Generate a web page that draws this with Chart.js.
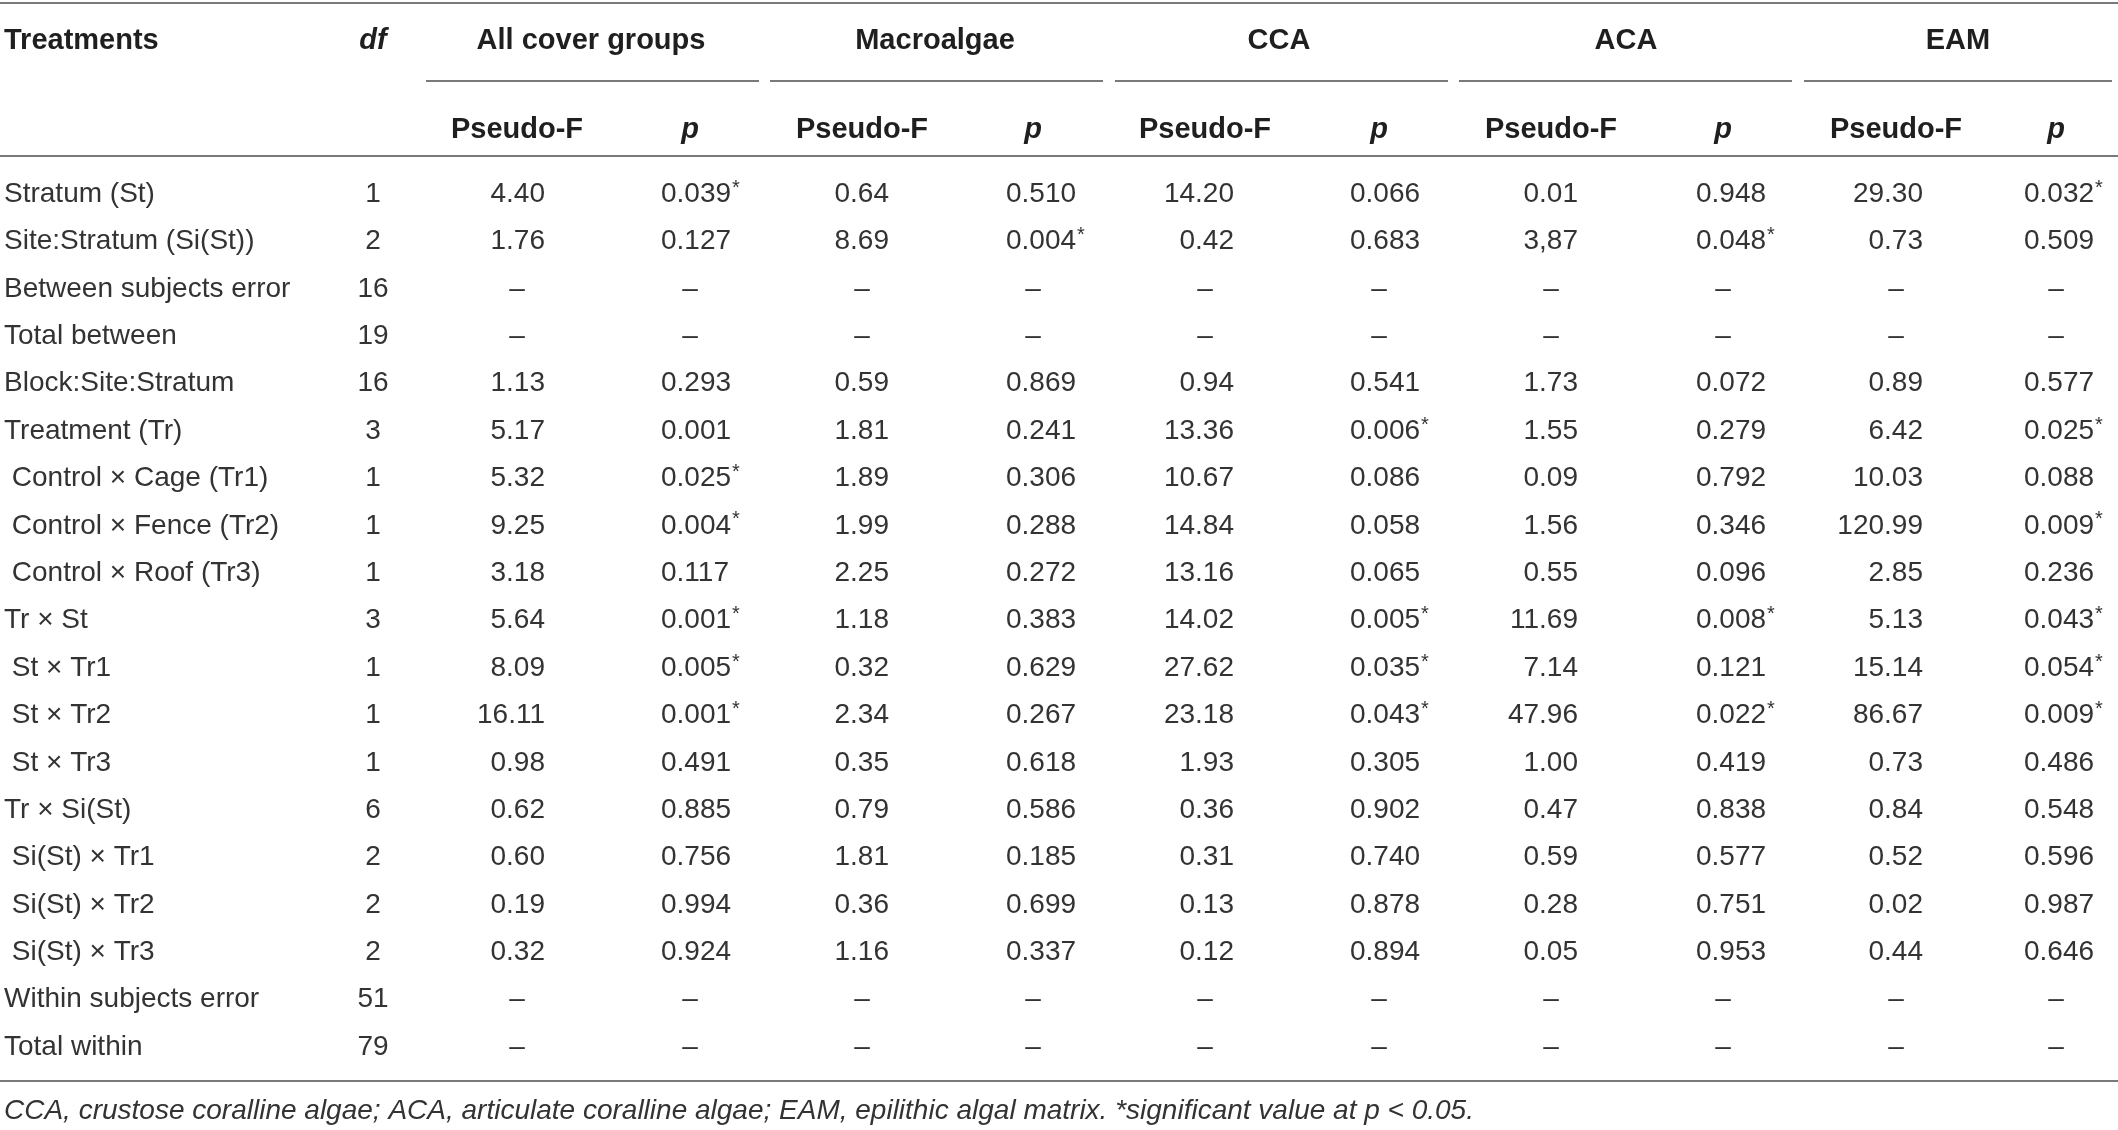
<!DOCTYPE html>
<html lang="en">

<head>
      <meta charset="UTF-8">
      <title>Treatments table</title>
      <script src="https://cdn.jsdelivr.net/npm/chart.js"></script>
      <style>
            html, body {
                  margin: 0;
                  padding: 0;
                  background: #ffffff;
            }
            .chart-container {
                  position: relative;
                  width: 2118px;
                  height: 1130px;
            }
      </style>
</head>

<body>
      <div class="chart-container">
            <canvas id="tableChart" width="2118" height="1130"></canvas>
      </div>

      <script>
            // table data
            const treatments = ['Stratum (St)', 'Site:Stratum (Si(St))', 'Between subjects error', 'Total between',
                  'Block:Site:Stratum', 'Treatment (Tr)', ' Control × Cage (Tr1)', ' Control × Fence (Tr2)',
                  ' Control × Roof (Tr3)', 'Tr × St', ' St × Tr1', ' St × Tr2', ' St × Tr3', 'Tr × Si(St)',
                  ' Si(St) × Tr1', ' Si(St) × Tr2', ' Si(St) × Tr3', 'Within subjects error', 'Total within'];
            const df = [1, 2, 16, 19, 16, 3, 1, 1, 1, 3, 1, 1, 1, 6, 2, 2, 2, 51, 79];
            const groups = ['All cover groups', 'Macroalgae', 'CCA', 'ACA', 'EAM'];

            // null = dash
            const allPseudoF = ['4.40', '1.76', null, null, '1.13', '5.17', '5.32', '9.25', '3.18', '5.64', '8.09', '16.11', '0.98', '0.62', '0.60', '0.19', '0.32', null, null];
            const allP = ['0.039*', '0.127', null, null, '0.293', '0.001', '0.025*', '0.004*', '0.117', '0.001*', '0.005*', '0.001*', '0.491', '0.885', '0.756', '0.994', '0.924', null, null];
            const macroPseudoF = ['0.64', '8.69', null, null, '0.59', '1.81', '1.89', '1.99', '2.25', '1.18', '0.32', '2.34', '0.35', '0.79', '1.81', '0.36', '1.16', null, null];
            const macroP = ['0.510', '0.004*', null, null, '0.869', '0.241', '0.306', '0.288', '0.272', '0.383', '0.629', '0.267', '0.618', '0.586', '0.185', '0.699', '0.337', null, null];
            const ccaPseudoF = ['14.20', '0.42', null, null, '0.94', '13.36', '10.67', '14.84', '13.16', '14.02', '27.62', '23.18', '1.93', '0.36', '0.31', '0.13', '0.12', null, null];
            const ccaP = ['0.066', '0.683', null, null, '0.541', '0.006*', '0.086', '0.058', '0.065', '0.005*', '0.035*', '0.043*', '0.305', '0.902', '0.740', '0.878', '0.894', null, null];
            const acaPseudoF = ['0.01', '3,87', null, null, '1.73', '1.55', '0.09', '1.56', '0.55', '11.69', '7.14', '47.96', '1.00', '0.47', '0.59', '0.28', '0.05', null, null];
            const acaP = ['0.948', '0.048*', null, null, '0.072', '0.279', '0.792', '0.346', '0.096', '0.008*', '0.121', '0.022*', '0.419', '0.838', '0.577', '0.751', '0.953', null, null];
            const eamPseudoF = ['29.30', '0.73', null, null, '0.89', '6.42', '10.03', '120.99', '2.85', '5.13', '15.14', '86.67', '0.73', '0.84', '0.52', '0.02', '0.44', null, null];
            const eamP = ['0.032*', '0.509', null, null, '0.577', '0.025*', '0.088', '0.009*', '0.236', '0.043*', '0.054*', '0.009*', '0.486', '0.548', '0.596', '0.987', '0.646', null, null];

            const footnote = 'CCA, crustose coralline algae; ACA, articulate coralline algae; EAM, epilithic algal matrix. *significant value at p < 0.05.';

            const pseudoFCols = [allPseudoF, macroPseudoF, ccaPseudoF, acaPseudoF, eamPseudoF];
            const pCols = [allP, macroP, ccaP, acaP, eamP];

            // column anchors (x scale units) and header rows (y scale units)
            var cols = {
                  label: 4,
                  df: 373,
                  title: [591, 935, 1279, 1626, 1958],
                  sub: [[426, 759], [770, 1103], [1115, 1448], [1459, 1792], [1804, 2112]],
                  pfRight: [545, 889, 1234, 1578, 1923],
                  pfMid: [517, 862, 1205, 1551, 1896],
                  pLeft: [661, 1006, 1350, 1696, 2024],
                  pMid: [690, 1033, 1379, 1723, 2056]
            };
            var rowsY = { top: -3.03, title: -2.23, sub: -1.38, subHead: -0.35, headLine: 0.2, bottom: 19.71, note: 20.35 };

            var bodyFont = '28px "Liberation Sans", Arial, sans-serif';
            var boldFont = 'bold 29px "Liberation Sans", Arial, sans-serif';
            var boldItalic = 'italic bold 29px "Liberation Sans", Arial, sans-serif';
            var noteFont = 'italic 28px "Liberation Sans", Arial, sans-serif';
            var starFont = '20px "Liberation Sans", Arial, sans-serif';
            var textColor = '#333333';
            var headColor = '#1f1f1f';
            var lineColor = '#7a7a7a';

            const tablePlugin = {
                  id: 'tablePlugin',
                  afterDraw: function (chart) {
                        let ctx = chart.ctx;
                        let xs = chart.scales.x;
                        let ys = chart.scales.y;
                        let X = v => xs.getPixelForValue(v);
                        let Y = v => ys.getPixelForValue(v);

                        function hline(x1, x2, yv) {
                              ctx.beginPath();
                              ctx.strokeStyle = lineColor;
                              ctx.lineWidth = 2;
                              ctx.moveTo(X(x1), Math.round(Y(yv)));
                              ctx.lineTo(X(x2), Math.round(Y(yv)));
                              ctx.stroke();
                        }
                        function text(str, xv, yv, align, font, color) {
                              ctx.font = font;
                              ctx.fillStyle = color;
                              ctx.textAlign = align;
                              ctx.textBaseline = 'middle';
                              ctx.fillText(str, X(xv), Y(yv));
                        }

                        ctx.save();

                        // rules
                        hline(0, 2118, rowsY.top);
                        hline(0, 2118, rowsY.headLine);
                        hline(0, 2118, rowsY.bottom);
                        cols.sub.forEach(s => hline(s[0], s[1], rowsY.sub));

                        // header
                        text('Treatments', cols.label, rowsY.title, 'left', boldFont, headColor);
                        text('df', cols.df, rowsY.title, 'center', boldItalic, headColor);
                        groups.forEach((g, i) => {
                              text(g, cols.title[i], rowsY.title, 'center', boldFont, headColor);
                              text('Pseudo-F', cols.pfMid[i], rowsY.subHead, 'center', boldFont, headColor);
                              text('p', cols.pMid[i], rowsY.subHead, 'center', boldItalic, headColor);
                        });

                        // body rows
                        treatments.forEach((t, r) => {
                              let yv = r + 1;
                              text(t, cols.label, yv, 'left', bodyFont, textColor);
                              text(String(df[r]), cols.df, yv, 'center', bodyFont, textColor);
                              for (let g = 0; g < groups.length; g++) {
                                    let f = pseudoFCols[g][r];
                                    let p = pCols[g][r];
                                    if (f === null) {
                                          text('–', cols.pfMid[g], yv, 'center', bodyFont, textColor);
                                    } else {
                                          text(f, cols.pfRight[g], yv, 'right', bodyFont, textColor);
                                    }
                                    if (p === null) {
                                          text('–', cols.pMid[g], yv, 'center', bodyFont, textColor);
                                    } else {
                                          let sig = p.endsWith('*');
                                          let num = sig ? p.slice(0, -1) : p;
                                          text(num, cols.pLeft[g], yv, 'left', bodyFont, textColor);
                                          if (sig) {
                                                ctx.font = bodyFont;
                                                let w = ctx.measureText(num).width;
                                                ctx.font = starFont;
                                                ctx.textAlign = 'left';
                                                ctx.fillText('*', X(cols.pLeft[g]) + w + 1, Y(yv) - 6);
                                          }
                                    }
                              }
                        });

                        // footnote
                        text(footnote, cols.label, rowsY.note, 'left', noteFont, textColor);

                        ctx.restore();
                  }
            };

            var ctx = document.getElementById('tableChart').getContext('2d');
            var tableChart = new Chart(ctx, {
                  type: 'scatter',
                  data: {
                        datasets: [{ data: [], pointRadius: 0 }]
                  },
                  options: {
                        responsive: false,
                        animation: false,
                        devicePixelRatio: 1,
                        layout: { padding: 0 },
                        plugins: {
                              legend: { display: false },
                              tooltip: { enabled: false }
                        },
                        scales: {
                              x: { type: 'linear', min: 0, max: 2118, display: false },
                              y: { type: 'linear', min: -3.1, max: 20.75, reverse: true, display: false }
                        }
                  },
                  plugins: [tablePlugin]
            });
      </script>
</body>

</html>
